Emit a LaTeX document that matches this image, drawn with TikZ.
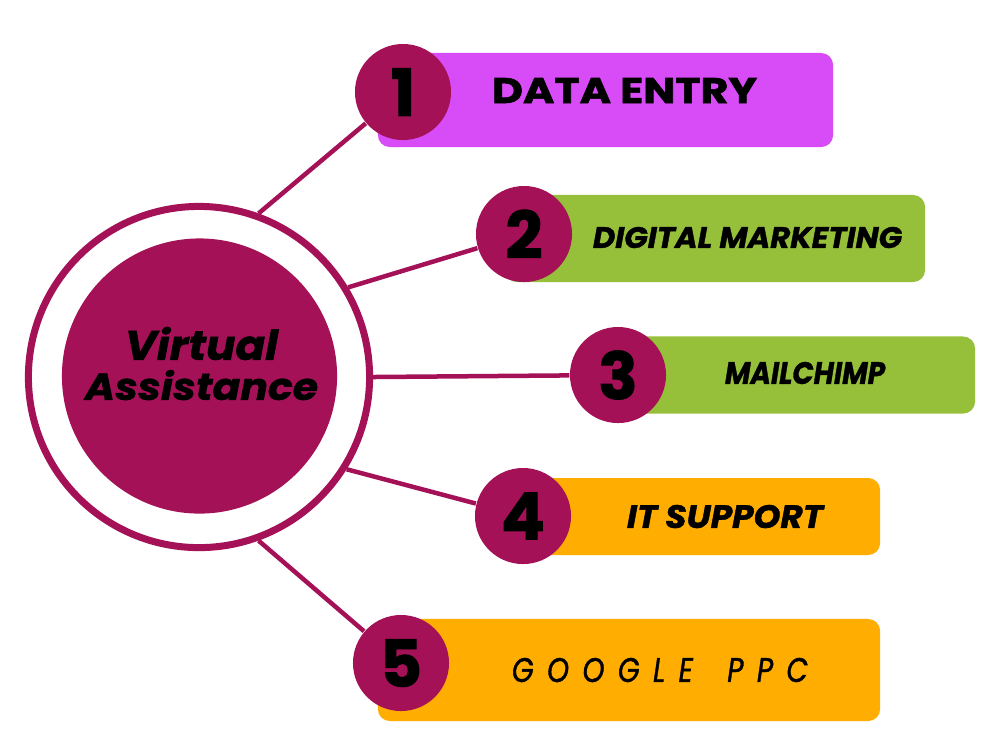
\documentclass[tikz,border=0pt]{standalone}
\usepackage{fontspec}
\setmainfont{Poppins}
\definecolor{crim}{HTML}{A51157}
\definecolor{magbox}{HTML}{D74CF7}
\definecolor{grnbox}{HTML}{96BF3A}
\definecolor{orgbox}{HTML}{FFAD00}
\newcommand\heavyup{\bfseries\addfontfeature{FakeBold=1.5}}
\newcommand\heavyit{\bfseries\itshape\addfontfeature{FakeBold=1.2}}
\newcommand\fitt[3]{\resizebox{#1}{#2}{#3}}
\begin{document}
\begin{tikzpicture}[x=0.01cm,y=-0.01cm,
  numc/.style={circle,fill=crim,minimum size=0.96cm,inner sep=0pt,
    font=\fontsize{18.5}{18.5}\selectfont\heavyup},
  card/.style={rectangle,rounded corners=0.12cm,inner sep=0pt},
  conn/.style={draw=crim,line width=0.045cm},
  lbl/.style={inner sep=0pt,text=black}]
\useasboundingbox[fill=white] (0,0) rectangle (1000,750);

% cards
\node[card,fill=magbox,minimum width=4.55cm,minimum height=0.94cm] (b1) at (605.5,100) {};
\node[card,fill=grnbox,minimum width=4.20cm,minimum height=0.87cm] (b2) at (715,238.5) {};
\node[card,fill=grnbox,minimum width=3.75cm,minimum height=0.77cm] (b3) at (787.5,375) {};
\node[card,fill=orgbox,minimum width=3.60cm,minimum height=0.77cm] (b4) at (700,516.5) {};
\node[card,fill=orgbox,minimum width=5.02cm,minimum height=1.02cm] (b5) at (629,670) {};

% number circles
\node[numc] (c1) at (403,92) {1};
\node[numc] (c2) at (524,234) {2};
\node[numc] (c3) at (618,375) {3};
\node[numc] (c4) at (523,516) {4};
\node[numc] (c5) at (401,663) {5};

% central ring and core
\node[circle,draw=crim,line width=0.07cm,minimum size=3.41cm,inner sep=0pt] (ring) at (199,377) {};
\node[circle,fill=crim,minimum size=2.75cm,inner sep=0pt] (core) at (199.5,376) {};

% connectors
\draw[conn] (ring.70) -- (c1);
\draw[conn] (ring.31) -- (c2);
\draw[conn] (ring.0) -- (c3);
\draw[conn] (ring.-32) -- (c4);
\draw[conn] (ring.-70) -- (c5);

% texts
\node[lbl] (va1) at (201.5,343.5) {\fitt{1.53cm}{0.33cm}{\heavyit Virtual}};
\node[lbl] (va2) at (201.5,385) {\fitt{2.33cm}{0.30cm}{\heavyit Assistance}};
\node[lbl] (t1) at (624.5,90.5) {\fitt{2.65cm}{0.25cm}{\heavyup DATA ENTRY}};
\node[lbl] (t2) at (747.5,237.5) {\fitt{3.09cm}{0.21cm}{\heavyit DIGITAL MARKETING}};
\node[lbl] (t3) at (805,373) {\fitt{1.60cm}{0.22cm}{\heavyit MAILCHIMP}};
\node[lbl] (t4) at (725,516.5) {\fitt{1.96cm}{0.23cm}{\heavyit IT SUPPORT}};
\node[lbl] (t5) at (660,670) {\fitt{2.96cm}{0.24cm}{\mdseries\itshape\addfontfeature{FakeBold=1.3,LetterSpace=48}GOOGLE\hspace{0.45em} PPC}};
\end{tikzpicture}
\end{document}
